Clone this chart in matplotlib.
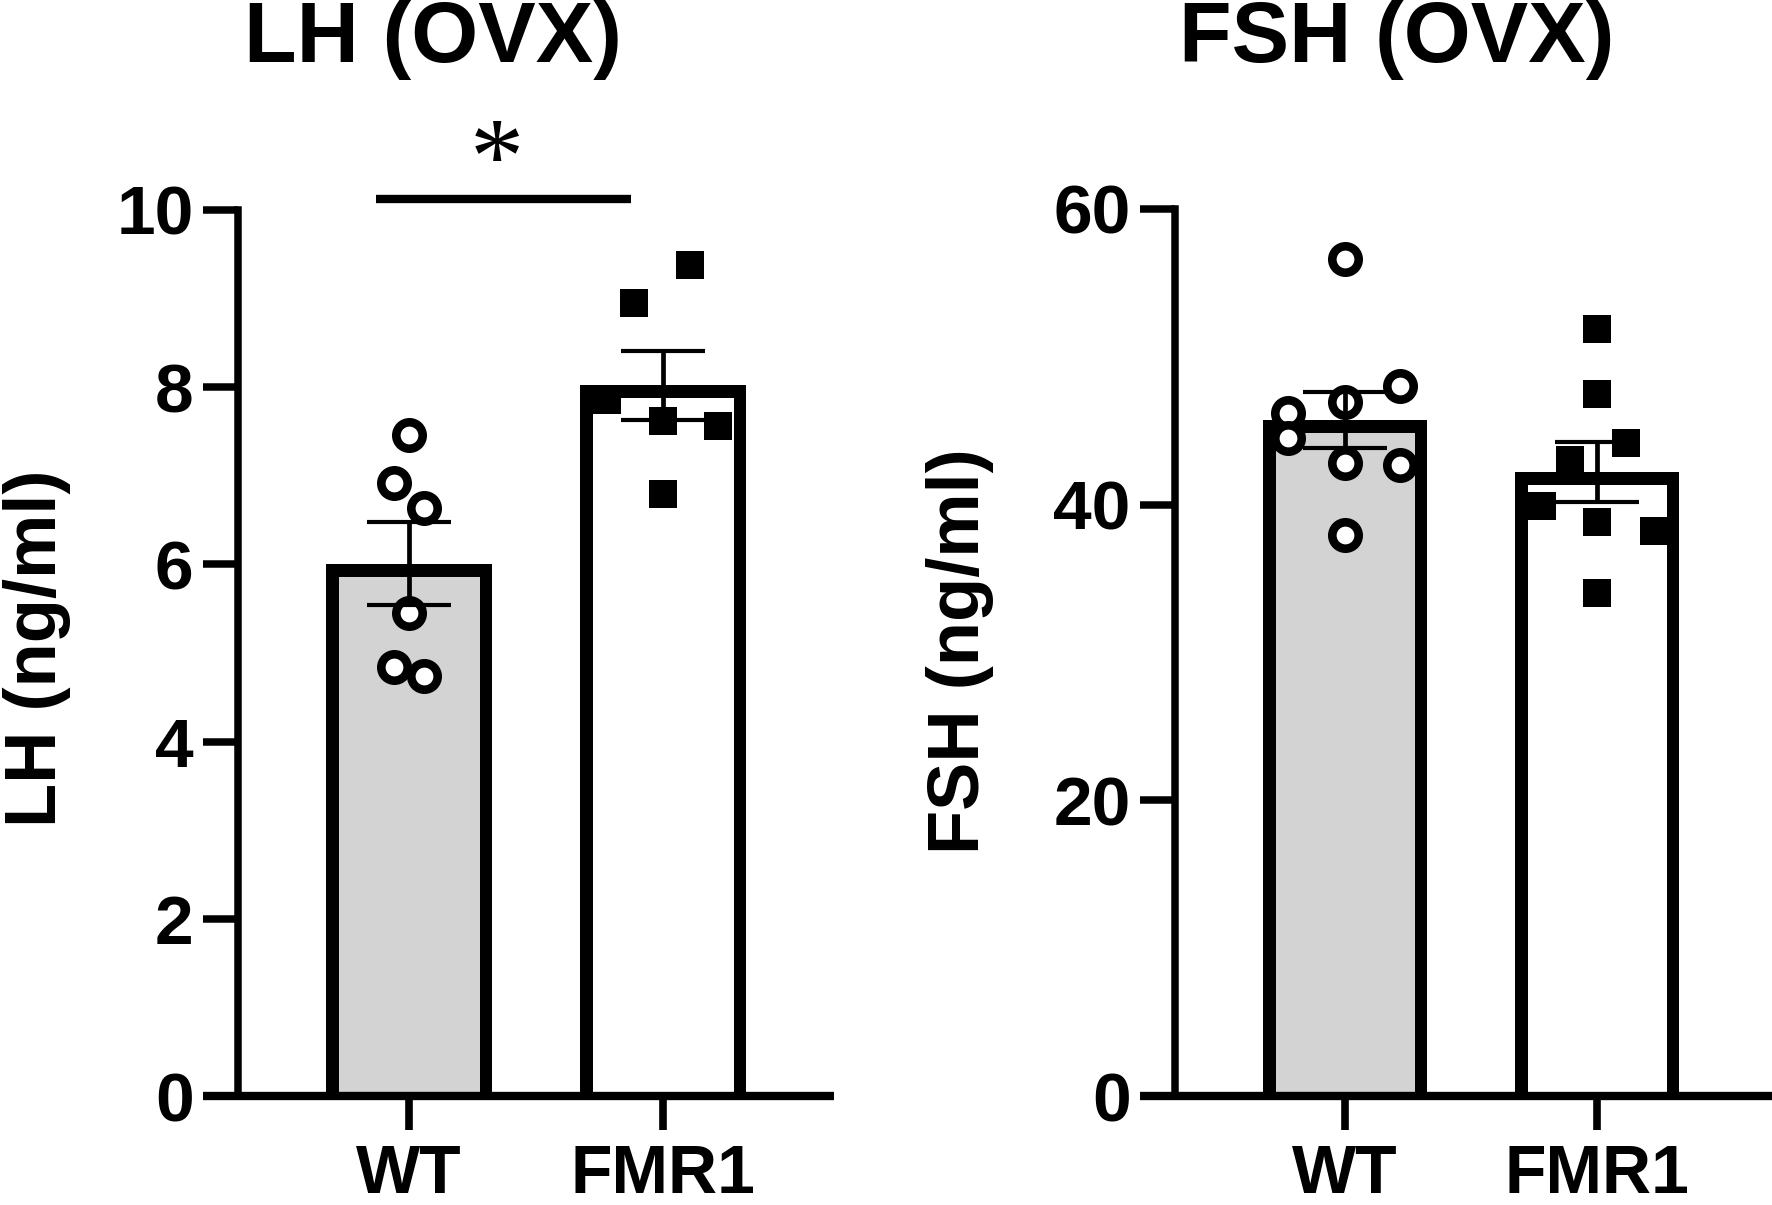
import numpy as np
import matplotlib
matplotlib.use("Agg")
import matplotlib.pyplot as plt
from matplotlib.lines import Line2D

plt.rcParams['font.family'] = ['Liberation Sans', 'DejaVu Sans']
plt.rcParams['font.weight'] = 'bold'

# --- data ---
groups = ['WT', 'FMR1']

lh_mean = [6.01, 8.02]
lh_sem = [0.47, 0.39]
lh_wt = [7.46, 6.92, 6.64, 5.45, 4.84, 4.74]
lh_wt_dx = [0.0, -0.06, 0.06, 0.0, -0.06, 0.06]
lh_fmr1 = [9.38, 8.95, 7.85, 7.62, 7.56, 6.79]
lh_fmr1_dx = [0.106, -0.114, -0.22, 0.0, 0.217, 0.0]

fsh_mean = [45.7, 42.2]
fsh_sem = [1.9, 2.03]
fsh_wt = [56.6, 48.0, 46.96, 46.2, 44.5, 42.8, 42.7, 37.96]
fsh_wt_dx = [0.0, 0.218, 0.0, -0.226, -0.226, 0.0, 0.218, 0.0]
fsh_fmr1 = [51.9, 47.5, 44.2, 43.0, 39.9, 38.8, 38.2, 34.0]
fsh_fmr1_dx = [0.0, 0.0, 0.115, -0.107, -0.218, 0.0, 0.226, 0.0]

bar_colors = ['#d3d3d3', 'white']

W, H = 1772, 1205
fig = plt.figure(figsize=(W / 100, H / 100), dpi=100)

AX_LW = 5.4


def panel(rect, ymax, yticks, means, sems, wt, wt_dx, fmr, fmr_dx, xlim):
    ax = fig.add_axes(rect)
    x = np.arange(len(groups))
    # bars start a little below zero so that the axes clip hides the bottom border
    under = 0.05 * ymax
    bars = ax.bar(x, np.array(means) + under, bottom=-under, width=0.65,
                  color=bar_colors, edgecolor='black', linewidth=18, zorder=2)
    # keep only the inner half of the thick border (Prism style),
    # clip box of the axes stays in place
    for b in bars:
        b.set_clip_path(b.get_path(), b.get_transform())

    ax.plot(x[0] + np.array(wt_dx), wt, 'o', ms=19, mfc='white', mec='black',
            mew=6.2, zorder=3, clip_on=False)
    ax.plot(x[1] + np.array(fmr_dx), fmr, 's', ms=19.5, color='black',
            mew=0, zorder=3, clip_on=False)
    ax.errorbar(x, means, yerr=sems, fmt='none', ecolor='black',
                elinewidth=3.4, capsize=30, capthick=3, zorder=4)

    ax.set_xlim(*xlim)
    ax.set_ylim(0, ymax)
    ax.set_yticks(yticks)
    ax.set_xticks(x)
    ax.set_xticklabels(groups)
    for s in ['top', 'right', 'bottom']:
        ax.spines[s].set_visible(False)
    ax.spines['left'].set_linewidth(AX_LW)
    ax.spines['left'].set_capstyle('projecting')
    ax.tick_params(axis='y', length=25, width=AX_LW, labelsize=50, pad=7)
    ax.tick_params(axis='x', length=24.5, width=5.5, labelsize=49, pad=9)
    # bottom axis line reaches out to the end of the y ticks
    ext = 35 / (rect[2] * W)
    ax.add_line(Line2D([-ext, 1], [0, 0], transform=ax.transAxes,
                       color='black', lw=6, clip_on=False,
                       solid_capstyle='butt', zorder=5))
    return ax


left = panel([238 / W, 1 - 1096 / H, 596 / W, 886 / H], 10, [0, 2, 4, 6, 8, 10],
             lh_mean, lh_sem, lh_wt, lh_wt_dx, lh_fmr1, lh_fmr1_dx,
             (-0.673, 1.673))
right = panel([1175 / W, 1 - 1096 / H, 597 / W, 887 / H], 60, [0, 20, 40, 60],
              fsh_mean, fsh_sem, fsh_wt, fsh_wt_dx, fsh_fmr1, fsh_fmr1_dx,
              (-0.675, 1.694))

# significance bar
left.plot([-0.13, 0.874], [10.12, 10.12], color='black', lw=6, clip_on=False,
          solid_capstyle='butt')
left.text(0.346, 10.2, '*', family=['Liberation Serif', 'DejaVu Serif'],
          fontweight='normal', fontsize=78, ha='center', va='baseline',
          clip_on=False)

# titles and axis labels
fig.text(433 / W, 1 - 62 / H, 'LH (OVX)', ha='center', va='baseline', fontsize=62)
fig.text(1397 / W, 1 - 62 / H, 'FSH (OVX)', ha='center', va='baseline', fontsize=62)
fig.text(37 / W, 1 - 648 / H, 'LH (ng/ml)', rotation=90, ha='center',
         va='center', fontsize=52)
fig.text(960 / W, 1 - 651 / H, 'FSH (ng/ml)', rotation=90, ha='center',
         va='center', fontsize=52)

fig.savefig('out.png', dpi=100, facecolor='white')
